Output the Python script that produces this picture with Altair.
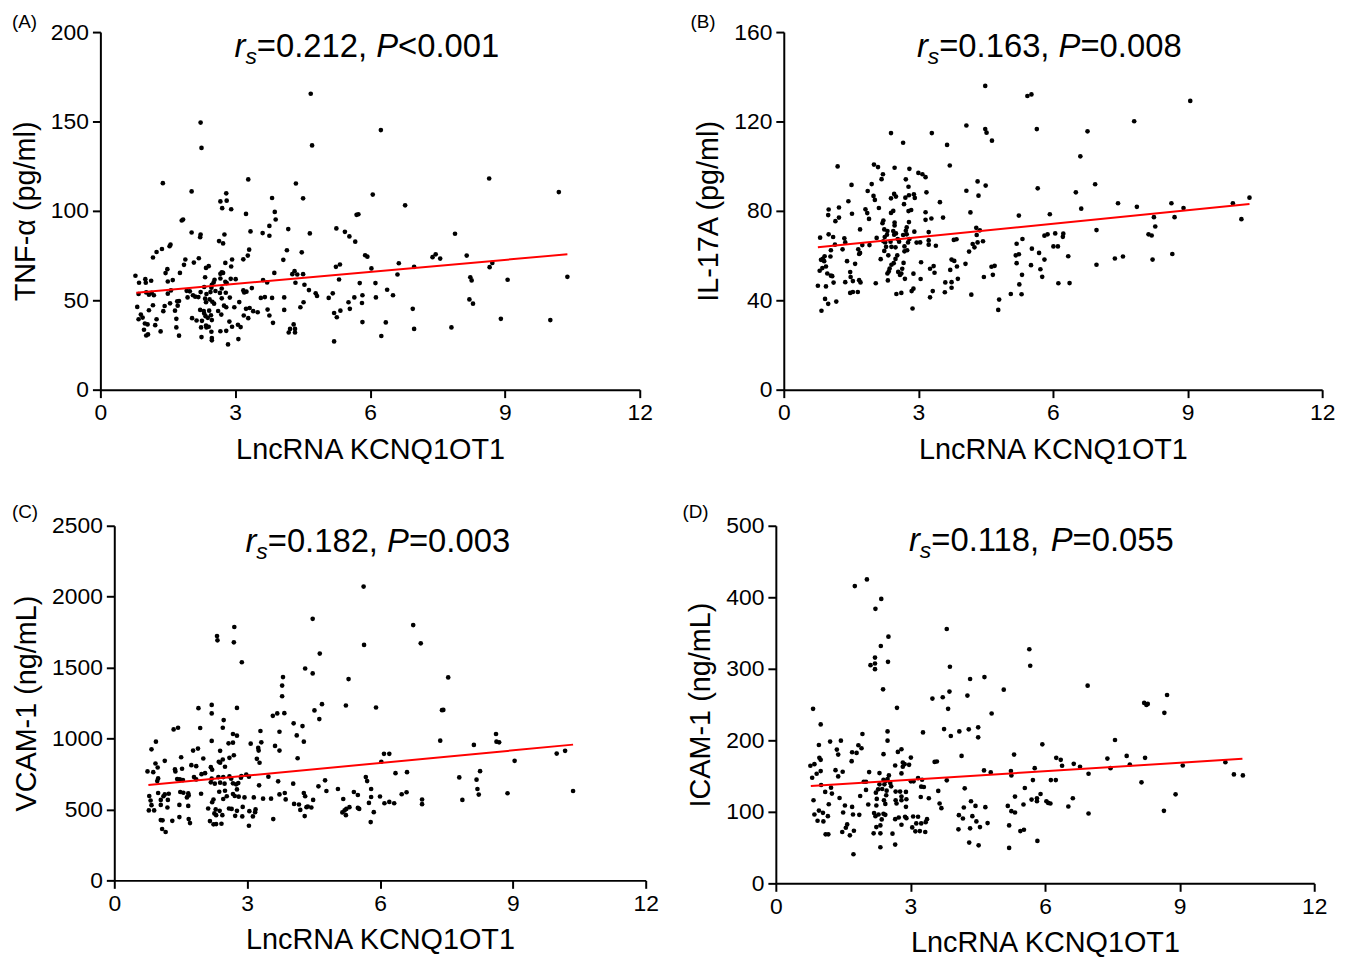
import altair as alt
import pandas as pd

FONT = "Liberation Sans"

# ---------------- data ----------------
tnf_points = [
    (2.23,149.4),(2.25,135.2),(1.39,115.5),(3.29,117.6),(2.03,110.9),(2.80,109.8),(2.67,105.3),(2.81,105.7),
    (3.82,107.2),(2.71,101.5),(2.91,100.9),(3.24,98.3),(3.88,99.4),(3.90,95.2),(1.81,94.6),(1.84,95.2),
    (3.76,91.6),(3.34,88.5),(2.03,87.9),(2.23,86.8),(2.22,85.3),(2.76,86.8),(3.61,87.6),(3.76,86.1),
    (2.64,83.1),(2.73,81.8),(1.56,81.1),(1.54,80.2),(1.37,78.7),(1.25,77.0),(1.17,73.9),(3.31,78.3),
    (3.28,75.0),(3.18,72.9),(1.89,72.8),(2.19,73.5),(2.08,71.1),(1.86,69.8),(2.78,70.9),(2.93,72.8),
    (2.41,69.1),(2.35,68.1),(2.91,68.9),(1.49,67.4),(1.45,65.2),(1.77,65.3),(2.70,65.7),(2.73,65.3),
    (2.67,64.8),(0.78,63.7),(3.87,65.3),(1.61,61.3),(1.50,60.5),(0.86,59.8),(1.00,61.8),(1.01,59.8),
    (1.13,60.9),(2.33,62.9),(2.54,61.5),(2.67,62.2),(2.78,60.3),(2.81,59.6),(2.90,62.0),(3.01,61.8),
    (2.52,60.0),(2.48,58.7),(2.47,57.0),(3.62,61.3),(3.71,60.0),(2.31,57.4),(2.70,56.6),(3.37,56.8),
    (0.85,53.5),(1.02,54.4),(1.08,53.1),(1.14,54.2),(1.19,52.8),(1.57,55.5),(1.50,53.7),(1.92,55.3),
    (1.99,55.0),(2.06,52.8),(2.23,54.6),(2.45,54.6),(2.36,53.5),(2.56,55.2),(2.66,54.1),(2.79,54.2),
    (3.18,55.5),(3.20,54.4),(3.25,54.8),(1.94,51.6),(2.11,52.0),(2.18,51.8),(2.33,50.9),(2.43,50.5),
    (2.35,48.9),(2.49,49.2),(2.70,51.1),(2.88,51.5),(3.66,51.8),(3.57,51.3),(3.82,51.3),(1.17,47.2),
    (0.82,46.3),(1.55,48.3),(1.43,46.8),(1.71,49.4),(1.75,49.6),(1.72,47.0),(2.53,48.1),(3.09,49.0),
    (2.75,47.0),(2.80,46.1),(2.98,46.1),(3.24,45.2),(3.32,45.7),(3.40,43.9),(3.50,43.3),(3.72,44.8),
    (1.08,44.4),(1.40,43.9),(1.66,44.2),(2.22,44.6),(2.30,44.0),(2.31,42.6),(2.42,44.2),(2.62,44.0),
    (2.69,42.0),(0.90,42.0),(0.94,40.3),(0.85,39.4),(1.25,39.4),(1.69,39.6),(2.04,40.0),(2.14,38.7),
    (2.34,41.1),(2.39,40.2),(2.46,41.6),(2.48,38.9),(2.87,38.1),(3.19,41.5),(3.29,40.0),(3.76,41.5),
    (3.84,37.4),(0.99,37.0),(1.05,36.5),(1.22,36.1),(2.26,38.5),(2.35,35.9),(2.41,35.2),(3.06,36.3),
    (3.12,35.0),(0.97,33.5),(1.34,32.6),(1.69,34.8),(2.24,34.8),(2.36,34.8),(2.47,32.4),(2.67,32.7),
    (2.80,32.9),(2.93,35.2),(1.02,30.3),(1.06,30.9),(1.75,30.2),(2.25,29.4),(2.48,28.9),(2.48,27.6),
    (3.07,28.3),(2.84,25.3),
    (4.68,165.5),(6.24,145.2),(4.71,136.6),(4.35,115.3),(4.51,107.0),(6.06,109.1),(6.78,103.1),(4.18,89.8),
    (4.66,87.4),(5.25,90.2),(5.44,88.3),(5.54,85.7),(5.67,82.8),(5.70,97.8),(5.74,98.1),(4.15,78.0),
    (4.07,72.6),(4.48,76.8),(5.89,75.2),(5.94,74.4),(7.39,74.1),(7.46,75.7),(7.56,73.3),(5.24,68.7),
    (5.33,70.0),(6.03,67.8),(6.64,70.7),(6.98,68.7),(4.27,64.6),(4.32,66.3),(4.38,64.4),(4.51,64.6),
    (6.61,64.4),(4.34,59.8),(4.54,58.7),(5.31,61.6),(5.77,59.6),(6.12,59.6),(4.64,55.7),(4.79,53.9),
    (4.82,52.4),(5.08,51.3),(5.17,53.9),(4.09,51.6),(4.52,48.9),(5.83,52.8),(5.82,48.5),(5.65,51.6),
    (5.52,48.9),(5.55,45.2),(6.13,51.6),(6.38,55.9),(6.51,52.8),(4.45,46.1),(4.09,44.6),(5.20,42.9),
    (5.26,40.5),(5.34,44.2),(6.95,45.2),(5.83,37.8),(6.35,37.6),(6.98,34.0),(7.81,34.8),(4.30,36.5),
    (4.22,34.0),(4.19,32.0),(4.33,34.0),(4.33,32.0),(6.25,30.0),(5.20,27.0),
    (8.65,118.1),(10.20,110.5),(7.89,87.2),(8.15,75.0),(8.72,70.9),(8.66,68.5),(8.23,62.9),(8.26,61.1),
    (9.06,61.5),(10.39,63.1),(8.21,50.5),(8.29,48.1),(8.91,39.6),(10.01,38.9),
]
tnf_fit = [(0.80, 54.2), (10.39, 75.7)]

il17_points = [
    (2.39,114.8),(3.30,114.8),(2.66,110.5),(3.64,109.5),(3.70,100.3),(1.20,99.9),(2.01,100.7),(2.10,99.6),
    (2.47,99.3),(2.80,98.8),(2.21,96.4),(2.18,94.2),(2.72,94.1),(3.00,97.0),(3.09,96.4),(3.16,95.1),
    (1.51,91.6),(1.96,92.0),(2.78,90.8),(1.87,88.9),(2.00,86.7),(2.03,84.9),(2.39,85.6),(2.46,87.6),
    (2.50,86.4),(2.71,85.9),(2.79,87.0),(2.90,87.4),(2.92,85.8),(3.18,88.3),(2.68,83.0),(1.44,84.3),
    (1.23,81.5),(3.48,83.9),(1.00,80.6),(0.99,78.1),(1.23,77.0),(1.15,75.4),(1.52,78.7),(1.82,80.7),
    (1.86,79.0),(1.90,76.4),(2.12,81.3),(2.39,79.1),(2.44,80.0),(2.22,75.7),(2.20,74.5),(2.47,74.8),
    (2.47,73.5),(2.78,79.9),(2.84,80.4),(2.79,75.0),(2.74,72.6),(2.72,71.1),(3.16,79.4),(3.16,76.0),
    (3.29,76.6),(3.55,77.0),(1.70,71.7),(2.24,71.7),(2.31,71.0),(2.30,69.3),(2.25,68.3),(2.44,71.0),
    (2.46,69.3),(2.50,69.9),(2.66,69.2),(2.74,69.5),(2.91,70.7),(3.23,70.5),(1.00,69.5),(1.10,68.3),
    (0.81,68.0),(2.07,67.9),(2.22,66.4),(2.26,65.9),(2.38,66.2),(2.54,67.4),(2.57,66.2),(2.80,67.4),
    (2.77,65.9),(2.96,65.8),(3.04,65.9),(3.23,66.8),(3.23,64.9),(3.39,64.4),(3.79,67.0),(3.85,67.3),
    (1.35,67.7),(1.37,65.9),(1.14,64.9),(1.75,64.7),(1.91,64.7),(1.31,62.8),(1.66,62.8),(1.05,62.4),
    (2.28,63.9),(2.40,63.9),(2.49,63.7),(2.69,64.1),(2.69,61.9),(2.75,62.4),(2.24,62.1),(1.70,61.2),
    (1.68,60.7),(2.33,60.1),(2.53,60.1),(0.91,59.7),(1.04,59.6),(0.87,58.5),(0.83,58.1),(0.90,57.5),
    (2.16,58.4),(2.49,58.5),(2.45,56.6),(2.40,55.9),(2.36,54.2),(2.67,56.7),(2.64,54.1),(1.41,57.5),
    (1.59,56.3),(3.06,57.0),(3.26,54.1),(3.34,55.3),(3.36,52.3),(3.74,58.2),(3.80,57.6),(3.71,53.6),
    (3.88,49.6),(0.94,55.1),(0.86,54.4),(0.80,53.2),(0.97,52.0),(1.05,51.0),(1.08,50.8),(1.48,52.6),
    (1.49,50.4),(2.31,52.0),(2.34,52.9),(2.55,52.7),(2.59,51.3),(2.62,52.0),(2.70,49.6),(2.89,51.9),
    (3.05,49.5),(1.37,48.1),(1.54,48.6),(1.68,49.0),(1.71,48.0),(2.32,48.9),(1.11,47.9),(0.76,46.5),
    (0.94,46.2),(2.05,47.6),(3.60,48.0),(3.74,48.1),(3.74,45.6),(1.48,43.3),(1.54,43.7),(1.65,43.7),
    (2.51,42.8),(2.62,43.3),(2.85,44.1),(2.89,45.2),(3.32,44.1),(3.26,41.3),(3.59,43.6),(0.92,40.6),
    (0.99,38.4),(1.17,39.4),(0.84,35.3),(2.87,36.3),
    (4.49,135.9),(5.43,131.4),(5.52,132.1),(4.07,118.2),(4.49,116.6),(4.52,115.0),(4.64,111.4),(5.64,116.6),
    (6.77,115.6),(6.61,104.4),(4.32,93.2),(4.50,91.3),(4.07,89.0),(4.34,86.8),(5.66,90.1),(6.51,88.3),
    (6.94,91.9),(6.63,81.0),(4.16,79.3),(5.24,77.9),(5.93,78.5),(4.29,72.4),(4.37,71.3),(4.30,69.2),
    (4.44,66.4),(4.21,65.2),(4.32,65.9),(4.25,63.7),(4.13,61.8),(5.19,65.3),(5.32,67.4),(5.81,68.9),
    (5.88,69.5),(6.05,69.9),(6.23,69.8),(6.22,68.4),(6.01,64.1),(6.11,64.1),(5.53,63.1),(5.69,61.2),
    (6.34,59.7),(6.97,71.4),(5.17,60.1),(5.24,60.6),(5.81,58.2),(5.19,56.6),(5.51,55.7),(5.72,53.9),
    (5.76,50.5),(5.31,51.4),(5.25,47.1),(6.12,47.6),(6.37,47.7),(6.97,55.9),(4.63,55.0),(4.70,55.4),
    (4.66,51.4),(4.46,50.4),(4.05,56.3),(3.86,55.1),(4.18,42.5),(4.80,40.3),(4.78,35.7),(5.06,42.8),
    (5.30,42.7),
    (9.06,129.2),(7.81,120.1),(7.45,83.4),(7.87,81.8),(8.64,83.4),(8.91,81.3),(10.01,83.4),(10.38,85.9),
    (8.25,77.2),(8.71,77.2),(10.20,76.3),(8.28,73.0),(8.13,69.5),(8.20,69.0),(7.38,58.7),(7.56,59.6),
    (8.22,58.2),(8.66,60.7),
]
il17_fit = [(0.76, 63.7), (10.38, 83.1)]

vcam_points = [
    (2.71,1786),(2.32,1723),(2.33,1692),(2.70,1678),(2.88,1538),(3.81,1433),(3.79,1373),(3.79,1298),
    (1.90,1214),(2.20,1237),(2.20,1177),(2.77,1216),(2.47,1130),(3.58,1160),(3.68,1177),(3.84,1179),
    (1.34,1064),(1.44,1076),(1.94,1074),(2.45,1076),(2.20,983),(2.68,1032),(2.77,1020),(3.30,1053),
    (3.73,1048),(0.94,978),(0.84,924),(1.78,915),(1.89,929),(2.58,966),(2.68,971),(2.39,913),
    (2.70,882),(2.60,864),(3.08,964),(3.25,934),(3.26,915),(3.32,973),(3.63,948),(3.73,915),
    (1.51,868),(2.01,859),(1.14,843),(0.93,824),(0.98,796),(0.75,768),(0.88,763),(1.37,782),
    (1.38,768),(1.53,787),(1.74,812),(1.85,805),(2.18,798),(2.21,780),(2.36,836),(2.39,829),
    (2.45,852),(2.50,801),(3.22,857),(3.28,829),(1.97,749),(2.05,756),(1.80,728),(1.85,712),
    (1.42,714),(1.48,712),(1.55,707),(0.99,719),(0.97,700),(2.20,717),(2.35,728),(2.46,728),
    (2.60,733),(2.64,717),(2.87,735),(2.86,724),(2.98,745),(3.04,731),(3.48,731),(3.70,698),
    (2.18,691),(2.27,682),(2.39,689),(2.49,682),(2.68,684),(2.75,677),(2.80,686),(3.27,670),
    (1.49,623),(1.56,618),(1.67,613),(1.68,599),(1.64,585),(1.23,611),(1.14,606),(0.99,616),
    (0.79,595),(1.11,593),(1.96,611),(2.37,625),(2.50,632),(2.68,609),(2.72,595),(2.81,590),
    (2.94,585),(2.77,641),(2.46,574),(2.54,593),(2.24,570),(2.21,551),(3.15,585),(3.36,576),
    (3.54,576),(3.73,606),(3.85,616),(3.87,571),(0.82,563),(1.05,567),(1.21,567),(0.84,530),
    (1.05,532),(1.47,532),(1.67,525),(1.20,514),(0.78,493),(0.90,493),(2.12,507),(2.29,500),
    (2.38,490),(2.26,472),(2.59,507),(2.65,504),(2.77,490),(2.90,518),(3.05,488),(3.19,500),
    (3.18,481),(2.30,460),(2.44,460),(2.73,455),(2.89,451),(3.13,451),(1.47,446),(1.05,425),
    (1.09,423),(1.31,420),(1.68,432),(1.71,404),(2.16,418),(2.30,397),(2.24,395),(2.42,399),
    (3.59,432),(3.04,385),(1.08,362),(1.16,341),
    (5.63,2071),(4.48,1844),(6.75,1800),(5.64,1660),(6.92,1671),(4.64,1599),(4.31,1494),(4.48,1459),
    (5.29,1419),(4.69,1242),(4.52,1198),(4.63,1137),(5.23,1233),(5.91,1219),(7.40,1200),(4.05,1107),
    (4.25,1088),(4.12,1022),(4.28,978),(4.14,861),(7.36,985),(6.09,892),(6.21,892),(6.03,836),
    (6.35,756),(6.61,763),(4.04,682),(4.61,663),(4.76,705),(4.79,630),(5.05,644),(5.68,728),
    (5.71,700),(5.80,644),(5.41,623),(5.50,602),(5.80,588),(6.00,591),(6.49,607),(6.60,621),
    (6.95,570),(6.95,537),(4.06,539),(4.17,535),(4.28,616),(4.31,593),(4.49,567),(4.20,497),
    (4.30,453),(4.34,516),(4.37,521),(4.45,514),(5.17,574),(5.15,479),(5.20,493),(5.23,460),
    (5.24,504),(5.31,516),(5.50,511),(5.53,504),(5.75,546),(5.86,481),(5.79,411),(6.10,544),
    (6.21,553),(6.32,544),
    (7.54,1431),(7.43,1202),(8.62,1032),(8.63,978),(8.69,973),(8.12,955),(9.99,894),(10.18,913),
    (9.04,843),(8.26,770),(7.79,726),(8.18,710),(8.20,644),(8.23,605),(8.88,614),(10.36,630),
    (7.86,567),
]
vcam_fit = [(0.77, 672), (10.36, 957)]

icam_points = [
    (2.03,425.0),(1.76,415.7),(2.35,397.7),(2.22,383.8),(2.51,344.9),(2.34,331.9),(2.21,315.7),(2.21,307.4),
    (2.11,305.1),(2.21,299.5),(2.50,309.7),(2.39,271.3),(3.49,258.3),(3.72,260.2),(0.83,244.0),(2.70,245.4),
    (1.00,222.2),(3.75,215.7),(1.93,208.8),(2.49,212.5),(3.28,211.1),(1.21,198.2),(1.45,199.5),(2.49,199.5),
    (0.96,193.5),(1.36,187.0),(1.39,180.1),(1.70,183.3),(1.80,182.4),(1.84,193.1),(1.91,188.9),(2.80,187.5),
    (2.72,183.8),(2.40,180.6),(3.01,175.9),(1.69,170.8),(0.97,175.5),(1.00,172.7),(0.77,164.4),(0.86,166.7),
    (2.83,169.0),(2.87,166.7),(2.97,165.7),(2.66,164.8),(2.83,163.0),(1.33,158.3),(1.49,156.0),(1.00,157.0),
    (0.91,153.2),(0.81,147.7),(2.08,155.6),(2.31,154.2),(2.52,150.9),(2.49,145.8),(2.40,144.9),(2.45,143.1),
    (2.42,138.4),(2.80,153.7),(1.39,149.5),(3.54,169.9),(3.59,170.4),(3.17,147.2),(3.26,144.9),(3.01,142.6),
    (3.07,142.6),(1.96,142.1),(2.01,142.1),(1.01,137.5),(2.31,138.4),(2.55,140.3),(2.28,131.5),(2.37,131.9),
    (2.01,130.6),(2.23,126.8),(2.47,129.6),(2.57,135.6),(2.67,128.3),(2.77,128.3),(2.90,127.8),(3.24,135.2),
    (3.30,134.7),(3.62,129.2),(1.23,133.8),(1.25,125.5),(1.10,127.8),(0.84,116.2),(1.42,119.4),(1.88,122.2),
    (2.06,110.2),(2.25,118.1),(2.24,108.8),(2.41,116.2),(2.46,123.2),(2.44,111.1),(2.67,116.2),(2.69,111.6),
    (2.80,121.3),(2.80,116.2),(2.91,117.6),(2.90,107.0),(3.23,120.8),(3.41,119.0),(3.65,111.6),(3.69,105.1),
    (1.18,110.6),(1.54,108.8),(1.50,99.1),(1.72,96.3),(1.86,95.8),(1.70,106.9),(0.96,101.8),(1.05,98.6),
    (1.16,93.9),(0.86,96.3),(1.06,86.6),(0.93,87.5),(2.19,98.2),(2.22,93.9),(2.29,96.3),(2.40,97.2),
    (2.36,89.4),(2.44,95.8),(2.66,89.8),(2.74,92.1),(2.80,81.9),(2.88,93.1),(2.91,91.2),(3.06,93.5),
    (3.17,93.1),(3.04,78.2),(3.13,83.8),(3.24,83.8),(3.37,89.8),(3.34,85.6),(3.21,73.1),(3.33,71.8),
    (3.11,72.7),(1.59,82.4),(1.56,77.8),(1.48,71.8),(1.65,67.1),(1.74,73.6),(1.11,68.5),(1.17,68.5),
    (2.24,78.7),(2.33,81.0),(2.18,69.9),(2.33,69.9),(2.60,69.5),(2.66,54.2),(2.33,50.5),(1.73,40.7),
    (3.81,355.6),(3.88,302.8),(5.65,327.3),(5.67,304.2),(4.33,285.7),(4.65,288.4),(3.87,268.1),(3.84,244.0),
    (4.27,262.5),(5.08,270.8),(6.95,276.4),(4.81,237.5),(3.90,206.0),(4.09,212.5),(4.30,215.3),(4.51,218.1),
    (4.51,204.2),(4.14,178.2),(5.94,194.4),(5.31,180.1),(6.25,175.5),(6.35,172.7),(6.38,164.4),(6.64,167.1),
    (6.78,163.0),(4.64,157.9),(4.79,155.1),(5.24,157.0),(5.25,150.9),(5.77,161.1),(6.97,153.2),(3.81,144.0),
    (5.73,144.4),(6.13,144.4),(6.24,144.4),(4.21,132.9),(5.55,133.3),(5.33,121.3),(5.90,125.0),(5.70,117.1),
    (5.82,119.0),(5.82,114.8),(6.03,114.8),(6.07,112.5),(6.12,111.6),(6.62,119.0),(6.52,107.4),(6.97,97.7),
    (4.35,114.8),(4.45,108.3),(4.19,106.0),(4.67,106.5),(5.17,108.3),(5.25,100.9),(5.52,110.2),(5.33,99.1),
    (4.08,95.4),(4.17,90.7),(4.38,94.0),(4.47,86.6),(4.72,84.3),(4.55,78.7),(4.33,76.9),(4.07,75.5),
    (5.20,81.0),(5.45,73.1),(5.53,75.0),(5.83,59.3),(4.31,57.0),(4.52,53.2),(5.20,49.5),
    (8.72,263.4),(8.21,252.3),(8.26,249.5),(8.29,250.9),(8.66,238.4),(7.56,200.5),(7.39,174.5),(7.82,178.2),
    (8.23,175.5),(7.89,166.2),(7.46,161.1),(9.07,164.8),(10.02,169.4),(10.21,152.3),(10.41,150.9),(8.15,141.2),
    (8.91,124.5),(8.65,101.4),
]
icam_fit = [(0.78, 136.1), (10.40, 174.1)]

x_ticks = [0, 3, 6, 9, 12]
x_title = "LncRNA KCNQ1OT1"

# ---------------- helpers ----------------
ARIAL_W = {str(d): 556 for d in range(10)}
ARIAL_W.update({".": 278, ",": 278, " ": 278, "=": 584, "<": 584, "r": 333, "s": 500, "P": 667})


def title_layers(x0, y0, parts, size=33, sub_size=23, sub_shift=7):
    layers = []
    x = x0
    for text, italic, sub in parts:
        fs = sub_size if sub else size
        kw = dict(text=text, font=FONT, fontSize=fs, align="left", baseline="alphabetic", color="black")
        if italic:
            kw["fontStyle"] = "italic"
        layers.append(
            alt.Chart(alt.Data(values=[{}])).mark_text(**kw).encode(
                x=alt.value(x), y=alt.value(y0 + (sub_shift if sub else 0))
            )
        )
        x += sum(ARIAL_W[c] for c in text) / 1000.0 * fs
    return layers


def panel(points, fit, ymax, ystep, ytitle, stat_text, p_text, label, width, height,
          title_x, title_y, label_x, label_y, xshift=0):
    df = pd.DataFrame(points, columns=["x", "y"])
    fit_df = pd.DataFrame(fit, columns=["x", "y"])
    xs = dict(domain=[0, 12], nice=False)
    if xshift:
        xs["range"] = [xshift, width]
    yax = dict(values=list(range(0, ymax + 1, ystep)), title=ytitle, format="d", labelFlush=False)
    if xshift:
        yax["offset"] = -xshift
    X = alt.X("x:Q", scale=alt.Scale(**xs),
              axis=alt.Axis(values=x_ticks, title=x_title, labelFlush=False))
    Y = alt.Y("y:Q", scale=alt.Scale(domain=[0, ymax], nice=False), axis=alt.Axis(**yax))
    pts = alt.Chart(df).mark_circle(size=22, color="black", opacity=1).encode(x=X, y=Y)
    line = alt.Chart(fit_df).mark_line(color="#ff0000", strokeWidth=2).encode(x="x:Q", y="y:Q")
    parts = [("r", True, False), ("s", True, True), (stat_text, False, False),
             ("P", True, False), (p_text, False, False)]
    lab = alt.Chart(alt.Data(values=[{}])).mark_text(
        text=label, font=FONT, fontSize=19, align="left", baseline="alphabetic", color="black"
    ).encode(x=alt.value(label_x), y=alt.value(label_y))
    return alt.layer(pts, line, *title_layers(title_x, title_y, parts), lab).properties(
        width=width, height=height
    )


# column 1 starts at the A axis; column 2 starts at the D axis (B is shifted right inside it)
A = panel(tnf_points, tnf_fit, 200, 50, "TNF-α (pg/ml)", "=0.212, ", "<0.001", "(A)",
          543, 360, 135, 25, -89, -4)
B = panel(il17_points, il17_fit, 160, 40, "IL-17A (pg/ml)", "=0.163, ", "=0.008", "(B)",
          550, 360, 142, 25, -86, -4, xshift=8)
C = panel(vcam_points, vcam_fit, 2500, 500, "VCAM-1 (ng/mL)", "=0.182, ", "=0.003", "(C)",
          549, 357, 146, 26, -89, -8, xshift=14)
D = panel(icam_points, icam_fit, 500, 100, "ICAM-1 (ng/mL)", "=0.118, ", "=0.055", "(D)",
          542, 360, 134, 25, -94, -8)

chart = (
    alt.concat(A, B, C, D, columns=2, spacing={"row": 137, "column": 131}, bounds="flush")
    .properties(padding={"left": 3, "top": 1, "right": 10, "bottom": 10})
    .configure_view(stroke="transparent")
    .configure_axis(
        grid=False, domainColor="black", domainWidth=2, tickColor="black", tickWidth=2, tickSize=8,
        labelFont=FONT, labelFontSize=23, labelColor="black", labelPadding=4,
        titleFont=FONT, titleFontSize=29, titleFontWeight="normal", titleColor="black",
    )
    .configure_axisX(titlePadding=11)
    .configure_axisY(titlePadding=10)
)

chart.save("out.html", embed_options={"renderer": "svg", "actions": False})
